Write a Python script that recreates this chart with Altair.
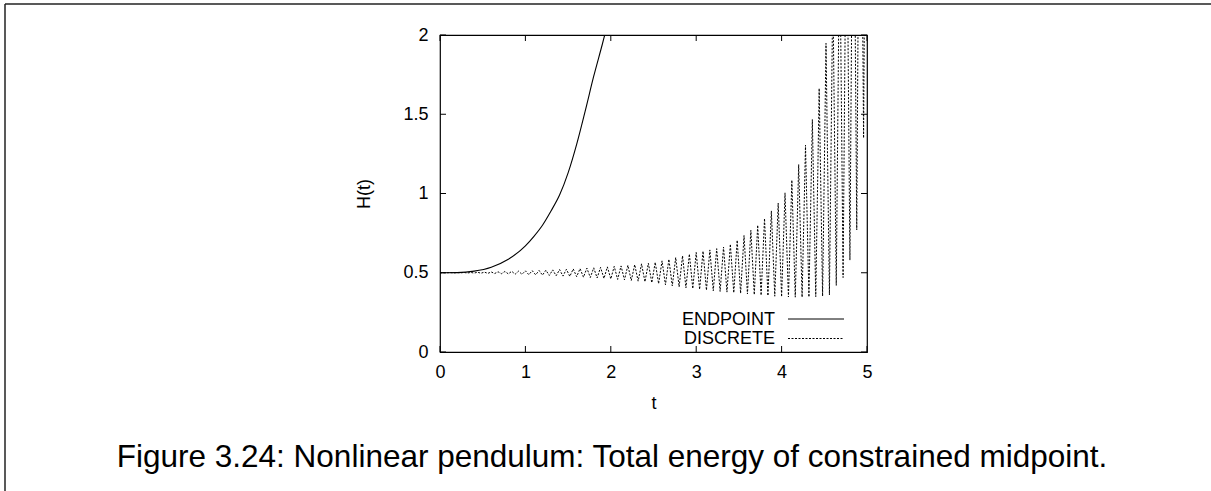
import altair as alt
import pandas as pd

FONT = "Liberation Sans"

# ---- data ----
SERIES = ["ENDPOINT", "DISCRETE"]

ENDPOINT_T = [0.0, 0.2, 0.4, 0.6, 0.8, 1.0, 1.1, 1.2, 1.3, 1.4, 1.5, 1.6, 1.7, 1.8, 1.9, 2.0]
ENDPOINT_H = [0.5, 0.501, 0.51, 0.535, 0.585, 0.67, 0.73, 0.80, 0.89, 0.99, 1.13, 1.31, 1.52, 1.74, 1.94, 2.15]

# DISCRETE: alternating low / high samples (step 0.04), lows at even steps, highs at odd steps
DISCRETE_STEP = 0.04
DISCRETE_LOWS = [
    0.500, 0.500, 0.499, 0.499, 0.498, 0.498, 0.497, 0.496, 0.495, 0.494,
    0.493, 0.491, 0.490, 0.488, 0.487, 0.485, 0.483, 0.481, 0.479, 0.477,
    0.475, 0.472, 0.470, 0.467, 0.464, 0.461, 0.458, 0.455, 0.451, 0.447,
    0.443, 0.437, 0.431, 0.424, 0.417, 0.411, 0.405, 0.400, 0.395, 0.390,
    0.386, 0.382, 0.378, 0.374, 0.370, 0.366, 0.362, 0.358, 0.355, 0.352,
    0.349, 0.347, 0.346, 0.346, 0.347, 0.349, 0.353, 0.360, 0.420, 0.470,
    0.580, 0.770, 1.350,
]
DISCRETE_HIGHS = [
    0.500, 0.501, 0.501, 0.502, 0.502, 0.503, 0.504, 0.505, 0.506, 0.508,
    0.509, 0.510, 0.512, 0.513, 0.514, 0.516, 0.518, 0.520, 0.522, 0.524,
    0.526, 0.529, 0.531, 0.534, 0.537, 0.540, 0.543, 0.547, 0.551, 0.556,
    0.560, 0.566, 0.575, 0.585, 0.596, 0.607, 0.618, 0.628, 0.636, 0.644,
    0.652, 0.662, 0.680, 0.705, 0.735, 0.768, 0.800, 0.842, 0.890, 0.940,
    1.004, 1.084, 1.183, 1.305, 1.467, 1.663, 1.947, 2.30, 2.70, 3.10,
    3.60, 4.20, 4.80,
]

X_TICKS = [0, 1, 2, 3, 4, 5]
Y_TICKS = [0, 0.5, 1, 1.5, 2]
X_TITLE = "t"
Y_TITLE = "H(t)"
CAPTION = "Figure 3.24: Nonlinear pendulum: Total energy of constrained midpoint."

# ---- tables ----
endpoint_df = pd.DataFrame({"t": ENDPOINT_T, "H": ENDPOINT_H, "series": SERIES[0]})
rows = []
for k, (lo, hi) in enumerate(zip(DISCRETE_LOWS, DISCRETE_HIGHS)):
    rows.append({"t": round(2 * k * DISCRETE_STEP, 4), "H": lo})
    rows.append({"t": round((2 * k + 1) * DISCRETE_STEP, 4), "H": hi})
discrete_df = pd.DataFrame(rows)
discrete_df["series"] = SERIES[1]

W, H = 427, 317
TICK = 6
DASH = [2, 1.5]

xscale = alt.Scale(domain=[0, 5], nice=False, zero=False)
yscale = alt.Scale(domain=[0, 2], nice=False, zero=False)

x_axis = alt.Axis(values=X_TICKS, format="d", title=X_TITLE, grid=False, domain=False,
                  ticks=False, tickSize=0, labelPadding=11, labelFont=FONT, labelFontSize=18,
                  labelColor="#000", titleFont=FONT, titleFontSize=18, titleFontWeight="normal",
                  titleColor="#000", titleX=W / 2, titleY=56, titleBaseline="alphabetic",
                  labelFlush=False, labelOverlap=False)
y_axis = alt.Axis(values=Y_TICKS, format="~g", title=Y_TITLE, grid=False, domain=False,
                  ticks=False, tickSize=0, labelPadding=12, labelFont=FONT, labelFontSize=18,
                  labelColor="#000", titleFont=FONT, titleFontSize=18, titleFontWeight="normal",
                  titleColor="#000", titleAngle=270, titleX=-71, titleY=H / 2,
                  titleAlign="center", titleBaseline="alphabetic",
                  labelFlush=False, labelOverlap=False)

base_axes = alt.Chart(endpoint_df).mark_line(opacity=0).encode(
    x=alt.X("t:Q", scale=xscale, axis=x_axis),
    y=alt.Y("H:Q", scale=yscale, axis=y_axis),
)

endpoint = alt.Chart(endpoint_df).mark_line(color="#000", strokeWidth=1.1, clip=True,
                                            interpolate="monotone").encode(
    x=alt.X("t:Q", scale=xscale),
    y=alt.Y("H:Q", scale=yscale),
)

discrete = alt.Chart(discrete_df).mark_line(color="#000", strokeWidth=1, strokeDash=DASH,
                                            clip=True).encode(
    x=alt.X("t:Q", scale=xscale),
    y=alt.Y("H:Q", scale=yscale),
)

xt_df = pd.DataFrame({"t": X_TICKS})
yt_df = pd.DataFrame({"v": Y_TICKS})
tick_props = dict(color="#000", strokeWidth=1)
xt_bottom = alt.Chart(xt_df).mark_rule(**tick_props).encode(
    x=alt.X("t:Q", scale=xscale), y=alt.value(H), y2=alt.value(H - TICK))
xt_top = alt.Chart(xt_df).mark_rule(**tick_props).encode(
    x=alt.X("t:Q", scale=xscale), y=alt.value(0), y2=alt.value(TICK))
yt_left = alt.Chart(yt_df).mark_rule(**tick_props).encode(
    y=alt.Y("v:Q", scale=yscale), x=alt.value(0), x2=alt.value(TICK))
yt_right = alt.Chart(yt_df).mark_rule(**tick_props).encode(
    y=alt.Y("v:Q", scale=yscale), x=alt.value(W), x2=alt.value(W - TICK))

# ---- gnuplot-style key (label then sample line) ----
def key_entry(name, y_text, y_line, dash):
    df = pd.DataFrame({"name": [name]})
    txt = alt.Chart(df).mark_text(align="right", baseline="alphabetic", font=FONT,
                                  fontSize=18, color="#000").encode(
        text="name:N", x=alt.value(335), y=alt.value(y_text))
    mk = dict(color="#000", strokeWidth=1)
    if dash:
        mk["strokeDash"] = DASH
    ln = alt.Chart(df).mark_rule(**mk).encode(
        x=alt.value(348), x2=alt.value(404), y=alt.value(y_line))
    return txt + ln

key1 = key_entry(SERIES[0], 290, 284, False)
key2 = key_entry(SERIES[1], 309, 303.5, True)

# ---- caption and page frame ----
cap_df = pd.DataFrame({"c": [CAPTION]})
caption = alt.Chart(cap_df).mark_text(align="center", baseline="alphabetic", font=FONT,
                                      fontSize=31.5, color="#000").encode(
    text="c:N", x=alt.value(172), y=alt.value(432))
frame_top = alt.Chart(cap_df).mark_rule(color="#222", strokeWidth=1.5).encode(
    x=alt.value(-435), x2=alt.value(771), y=alt.value(-31))
frame_left = alt.Chart(cap_df).mark_rule(color="#222", strokeWidth=1.5).encode(
    x=alt.value(-435), y=alt.value(-31), y2=alt.value(456))

chart = alt.layer(
    base_axes, endpoint, discrete, xt_bottom, xt_top, yt_left, yt_right,
    key1, key2, caption, frame_top, frame_left,
).properties(
    width=W, height=H,
    padding={"left": 440, "top": 35, "right": 344, "bottom": 139},
    autosize=alt.AutoSizeParams(type="none"),
    background="white",
).configure_view(stroke="#000", strokeWidth=1.2)

chart.save("out.html", embed_options={"renderer": "svg", "actions": False})
